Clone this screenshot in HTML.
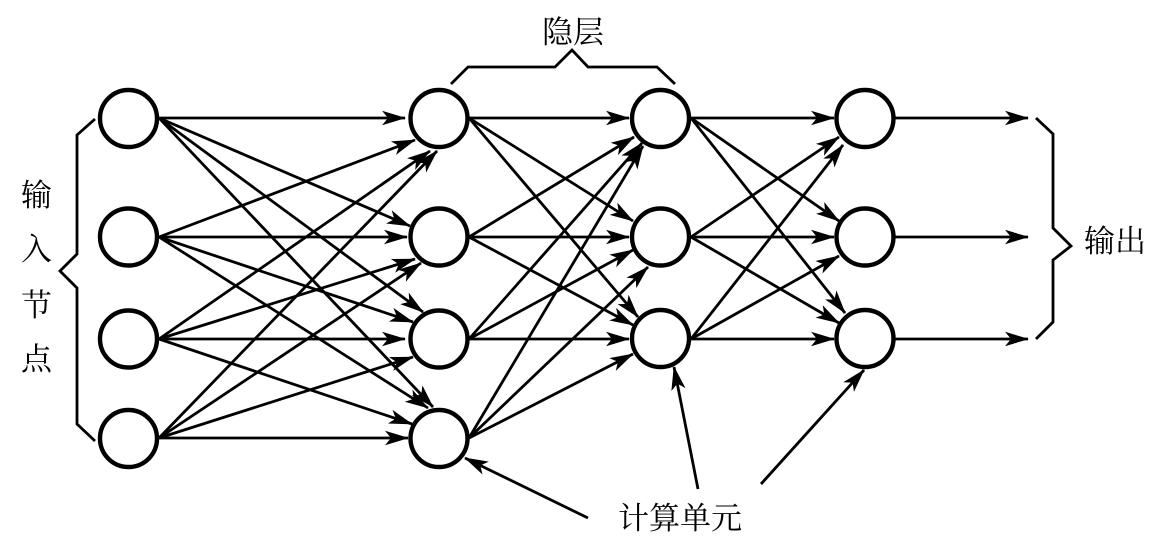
<!DOCTYPE html>
<html><head><meta charset="utf-8"><style>
html,body{margin:0;padding:0;background:#fff}
svg{display:block}
text{font-family:"Liberation Serif","Noto Serif CJK SC",serif;font-size:31px;fill:#000}
.l line{stroke:#000;stroke-width:2.8;marker-end:url(#a)}
circle{fill:none;stroke:#000;stroke-width:4.4}
polyline{fill:none;stroke:#000;stroke-width:2.8}
</style></head><body>
<svg width="1164" height="560" viewBox="0 0 1164 560" xmlns="http://www.w3.org/2000/svg">
<defs><marker id="a" markerUnits="userSpaceOnUse" markerWidth="26" markerHeight="18" refX="23" refY="9" orient="auto" viewBox="0 0 26 18"><path d="M0,1.8 L24,9 L0,16.2 L6,9 Z" fill="#000"/></marker></defs>
<g class="l">
<line x1="159" y1="118" x2="405" y2="118"/><line x1="159" y1="118" x2="410" y2="226"/><line x1="159" y1="118" x2="423" y2="312"/><line x1="159" y1="118" x2="433" y2="407"/>
<line x1="159" y1="237" x2="415" y2="140"/><line x1="159" y1="237" x2="407" y2="237"/><line x1="159" y1="237" x2="413" y2="322"/><line x1="159" y1="237" x2="428" y2="408"/>
<line x1="159" y1="339" x2="430" y2="151"/><line x1="159" y1="339" x2="415" y2="259"/><line x1="159" y1="339" x2="405" y2="339"/><line x1="159" y1="339" x2="412" y2="424"/>
<line x1="159" y1="438" x2="437" y2="151"/><line x1="159" y1="438" x2="421" y2="263"/><line x1="159" y1="438" x2="413" y2="357"/><line x1="159" y1="438" x2="408" y2="438"/>
<line x1="469" y1="118" x2="629" y2="118"/><line x1="469" y1="118" x2="633" y2="221"/><line x1="469" y1="118" x2="638" y2="317"/>
<line x1="469" y1="237" x2="634" y2="137"/><line x1="469" y1="237" x2="629" y2="237"/><line x1="469" y1="237" x2="633" y2="325"/>
<line x1="469" y1="339" x2="642" y2="143"/><line x1="469" y1="339" x2="633" y2="250"/><line x1="469" y1="339" x2="629" y2="339"/>
<line x1="469" y1="438" x2="643" y2="146"/><line x1="469" y1="438" x2="648" y2="267"/><line x1="469" y1="438" x2="633" y2="354"/>
<line x1="691" y1="118" x2="834" y2="118"/><line x1="691" y1="118" x2="839" y2="221"/><line x1="691" y1="118" x2="845" y2="313"/>
<line x1="691" y1="237" x2="839" y2="137"/><line x1="691" y1="237" x2="834" y2="237"/><line x1="691" y1="237" x2="839" y2="323"/>
<line x1="691" y1="339" x2="843" y2="145"/><line x1="691" y1="339" x2="839" y2="256"/><line x1="691" y1="339" x2="834" y2="339"/>
<line x1="895" y1="118" x2="1028" y2="118"/><line x1="895" y1="237" x2="1028" y2="237"/><line x1="895" y1="339" x2="1028" y2="339"/>
<line x1="588" y1="518" x2="465" y2="458"/><line x1="698" y1="489" x2="674" y2="367"/><line x1="761" y1="484" x2="864" y2="370"/>
</g>
<g>
<circle cx="128.5" cy="118.5" r="28.5"/><circle cx="128.5" cy="237" r="28.5"/><circle cx="128.5" cy="339" r="28.5"/><circle cx="128.5" cy="438.5" r="28.5"/>
<circle cx="439" cy="118.5" r="28.5"/><circle cx="439" cy="237" r="28.5"/><circle cx="439" cy="339" r="28.5"/><circle cx="439" cy="438.5" r="28.5"/>
<circle cx="660.5" cy="118.5" r="28.5"/><circle cx="660.5" cy="237" r="28.5"/><circle cx="660.5" cy="338.5" r="28.5"/>
<circle cx="865" cy="118.5" r="28.5"/><circle cx="865" cy="237" r="28.5"/><circle cx="865" cy="338.5" r="28.5"/>
</g>
<polyline points="95,119 77,135 77,254 60,271 77,288 77,424 95,441"/>
<polyline points="451,84 468,67 555,67 572,50 588,67 657,67 675,84"/>
<polyline points="1036,118 1053,134 1053,228 1071,246 1053,260 1053,322 1036,339"/>
<text x="542" y="43">隐层</text>
<text x="1084" y="252">输出</text>
<text x="618" y="529">计算单元</text>
<text x="21" y="206">输</text>
<text x="21" y="260">入</text>
<text x="21" y="316">节</text>
<text x="21" y="370">点</text>
</svg>
</body></html>
